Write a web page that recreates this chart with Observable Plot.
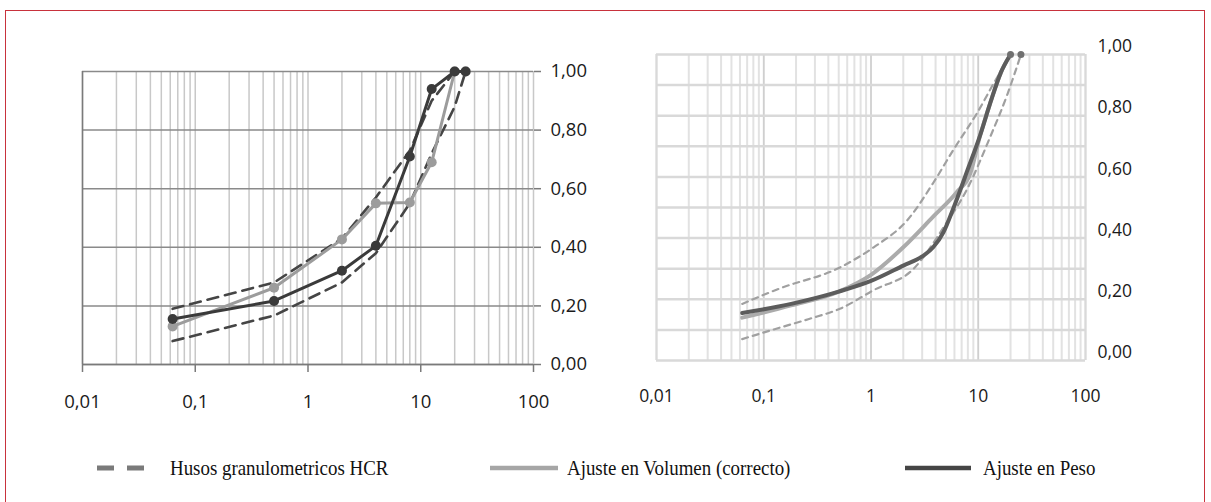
<!DOCTYPE html>
<html><head><meta charset="utf-8">
<script src="https://cdn.jsdelivr.net/npm/d3@7"></script>
<script src="https://cdn.jsdelivr.net/npm/@observablehq/plot@0.6"></script>
<style>
body{margin:0;background:#fff;}
#wrap{position:relative;width:1211px;height:502px;overflow:hidden;background:#fff;}
#border{position:absolute;left:5px;top:10px;width:1200px;height:540px;border:1px solid #c8323c;box-sizing:border-box;z-index:10;pointer-events:none;}
#left{position:absolute;left:0;top:0;}
#right{position:absolute;left:620px;top:0;}
#legend{position:absolute;top:453px;left:0;width:1211px;height:30px;font-family:"Liberation Serif","Times New Roman",serif;font-size:21px;color:#111;}
.lab{position:absolute;top:0;line-height:30px;white-space:nowrap;transform:scaleX(0.9);transform-origin:left center;}
.ico{position:absolute;top:0;}
</style></head>
<body>
<div id="wrap">
  <div id="left"></div>
  <div id="right"></div>
  <div id="legend"></div>
  <div id="border"></div>
</div>
<script>
// ---------- data ----------
const xTicks = [0.01, 0.1, 1, 10, 100];
const yTicksMain = [0, 0.2, 0.4, 0.6, 0.8, 1.0];
const yTicksFine = [0, 0.1, 0.2, 0.3, 0.4, 0.5, 0.6, 0.7, 0.8, 0.9, 1.0];

// Left panel (sieve sizes, mm)
const sievesL = [0.063, 0.5, 2, 4, 8, 12.5, 20, 25];
const pesoL   = [0.155, 0.217, 0.32, 0.405, 0.71, 0.94, 1.0, 1.0];
const volL    = [0.13, 0.262, 0.427, 0.55, 0.553, 0.69, 1.0, 1.0];
const husoSupXL = [0.063, 0.5, 2, 4, 8, 12.5, 20];
const husoSupL  = [0.19, 0.28, 0.43, 0.57, 0.73, 0.90, 1.0];
const husoInfXL = [0.063, 0.5, 2, 4, 8, 12.5, 20, 25];
const husoInfL  = [0.08, 0.167, 0.28, 0.38, 0.55, 0.72, 0.88, 1.0];

// Right panel (smoothed curves)
const pesoXR = [0.063, 0.18, 0.5, 1, 2, 3, 3.8, 4.75, 5.9, 7.9, 10.5, 12.9, 16.2, 20];
const pesoR  = [0.155, 0.185, 0.225, 0.26, 0.31, 0.34, 0.37, 0.42, 0.50, 0.62, 0.74, 0.84, 0.94, 1.0];
const volXR  = [0.063, 0.18, 0.5, 1, 2, 3.8, 6.3, 8.4, 10.5, 12.9, 16.2, 20];
const volR   = [0.14, 0.18, 0.225, 0.28, 0.37, 0.47, 0.55, 0.61, 0.74, 0.84, 0.94, 1.0];
const husoSupXR = [0.063, 0.14, 0.52, 1.06, 2.2, 3.8, 5.9, 9.8, 13.9, 20];
const husoSupR  = [0.185, 0.235, 0.305, 0.37, 0.46, 0.58, 0.69, 0.81, 0.905, 1.0];
const husoInfXR = [0.063, 0.12, 0.26, 0.52, 1.06, 2.5, 4.75, 8, 12.9, 18.7, 25];
const husoInfR  = [0.07, 0.1, 0.135, 0.17, 0.23, 0.30, 0.435, 0.565, 0.73, 0.87, 1.0];
const endXR = [20, 25];
const endR  = [1.0, 1.0];

const legendLabels = ["Husos granulometricos HCR", "Ajuste en Volumen (correcto)", "Ajuste en Peso"];

// ---------- helpers ----------
const pts = (xs, ys) => xs.map((x, i) => ({x, y: ys[i]}));
const fmtX = d => String(d).replace(".", ",");
const fmtY = d => d.toFixed(2).replace(".", ",");
const minorX = [0.01, 0.1, 1, 10].flatMap(d => [1,2,3,4,5,6,7,8,9].map(k => +(k*d).toPrecision(3))).concat([100]);

// ---------- left chart ----------
const left = Plot.plot({
  width: 620, height: 420,
  marginLeft: 82, marginRight: 87, marginTop: 71, marginBottom: 56,
  x: {type: "log", domain: [0.01, 100], label: null},
  y: {domain: [0, 1], label: null},
  style: {fontFamily: "'Open Sans', sans-serif", fontSize: "18px", color: "#1a1a1a", background: "transparent"},
  marks: [
    Plot.ruleX(minorX, {stroke: "#c8c8c8", strokeWidth: 1.5}),
    Plot.ruleY(yTicksMain, {stroke: "#8a8a8a", strokeWidth: 1.5}),
    Plot.ruleX([0.01], {stroke: "#7a7a7a", strokeWidth: 1.5}),
    Plot.ruleY([0], {stroke: "#7a7a7a", strokeWidth: 1.5}),
    Plot.axisX(xTicks, {tickFormat: fmtX, tickSize: 8, tickPadding: 22, stroke: "#7a7a7a", strokeWidth: 1.5, fontSize: 18.5, label: null}),
    Plot.axisY(yTicksMain, {anchor: "right", tickFormat: fmtY, tickSize: 7, tickPadding: 10, stroke: "#7a7a7a", strokeWidth: 1.5, fontSize: 18.5, label: null}),
    Plot.line(pts(husoSupXL, husoSupL), {x: "x", y: "y", stroke: "#454545", strokeWidth: 2.6, strokeDasharray: "11,7"}),
    Plot.line(pts(husoInfXL, husoInfL), {x: "x", y: "y", stroke: "#454545", strokeWidth: 2.6, strokeDasharray: "11,7"}),
    Plot.line(pts(sievesL, volL), {x: "x", y: "y", stroke: "#9c9c9c", strokeWidth: 3}),
    Plot.dot(pts(sievesL, volL), {x: "x", y: "y", fill: "#9c9c9c", r: 5}),
    Plot.line(pts(sievesL, pesoL), {x: "x", y: "y", stroke: "#3a3a3a", strokeWidth: 3}),
    Plot.dot(pts(sievesL, pesoL), {x: "x", y: "y", fill: "#3a3a3a", r: 5})
  ]
});
document.getElementById("left").appendChild(left);

// ---------- right chart ----------
const right = Plot.plot({
  width: 591, height: 440,
  marginLeft: 36, marginRight: 126, marginTop: 54, marginBottom: 80,
  x: {type: "log", domain: [0.01, 100], label: null},
  y: {domain: [0, 1], label: null},
  style: {fontFamily: "'Open Sans', sans-serif", fontSize: "17px", color: "#1a1a1a", background: "transparent"},
  marks: [
    Plot.ruleX(minorX, {stroke: "#e2e2e2", strokeWidth: 2}),
    Plot.ruleX([0.1, 1, 10], {stroke: "#cfcfcf", strokeWidth: 1.5}),
    Plot.ruleY(yTicksFine, {stroke: "#d9d9d9", strokeWidth: 2.5}),
    Plot.ruleX([0.01, 100], {stroke: "#d9d9d9", strokeWidth: 2}),
    Plot.axisX(xTicks, {tickFormat: fmtX, tickSize: 0, tickPadding: 29, fontSize: 17.5, label: null}),
    Plot.axisY(yTicksMain, {anchor: "right", tickFormat: fmtY, tickSize: 0, tickPadding: 12, dy: -8, fontSize: 17.5, label: null}),
    Plot.line(pts(husoSupXR, husoSupR), {x: "x", y: "y", stroke: "#a0a0a0", strokeWidth: 2.2, strokeDasharray: "6,5", curve: "monotone-x"}),
    Plot.line(pts(husoInfXR, husoInfR), {x: "x", y: "y", stroke: "#a0a0a0", strokeWidth: 2.2, strokeDasharray: "6,5", curve: "monotone-x"}),
    Plot.line(pts(volXR, volR), {x: "x", y: "y", stroke: "#ababab", strokeWidth: 4, curve: "monotone-x"}),
    Plot.line(pts(pesoXR, pesoR), {x: "x", y: "y", stroke: "#5c5c5c", strokeWidth: 4, curve: "monotone-x"}),
    Plot.dot(pts(endXR, endR), {x: "x", y: "y", fill: "#707070", r: 3.5})
  ]
});
document.getElementById("right").appendChild(right);

// ---------- legend ----------
const lg = document.getElementById("legend");
const icons = [
  {x: 97, label: 170, svg: '<svg width="52" height="30"><line x1="0" y1="15" x2="52" y2="15" stroke="#7a7a7a" stroke-width="5" stroke-dasharray="17,13"/></svg>'},
  {x: 490, label: 567, svg: '<svg width="68" height="30"><line x1="0" y1="15" x2="68" y2="15" stroke="#a6a6a6" stroke-width="4.5"/></svg>'},
  {x: 905, label: 983, svg: '<svg width="66" height="30"><line x1="0" y1="15" x2="66" y2="15" stroke="#454545" stroke-width="4.5"/></svg>'}
];
icons.forEach((ic, i) => {
  const s = document.createElement("div"); s.className = "ico"; s.style.left = ic.x + "px"; s.innerHTML = ic.svg; lg.appendChild(s);
  const t = document.createElement("div"); t.className = "lab"; t.style.left = ic.label + "px"; t.textContent = legendLabels[i]; lg.appendChild(t);
});
</script>
</body></html>
